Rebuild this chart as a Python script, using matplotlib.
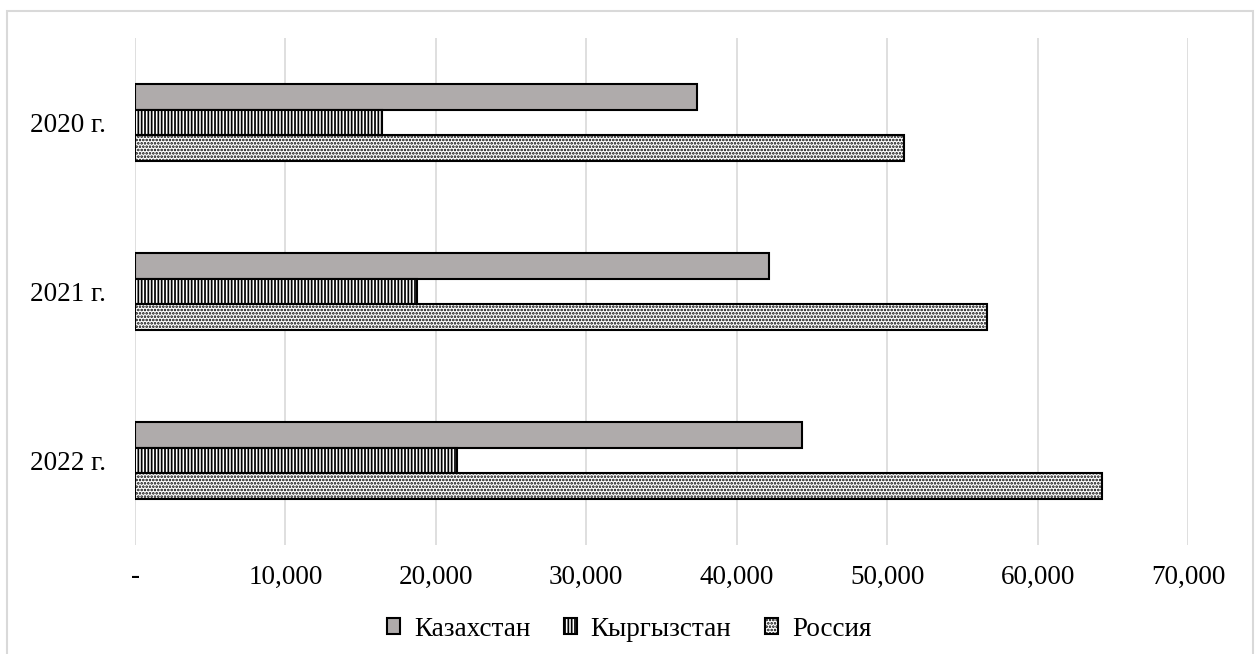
import numpy as np
import matplotlib
matplotlib.use('Agg')
import matplotlib.pyplot as plt
from matplotlib.patches import Rectangle
from matplotlib.ticker import FuncFormatter

years = ['2020 г.', '2021 г.', '2022 г.']
kazakhstan = [37330, 42120, 44310]
kyrgyzstan = [16430, 18760, 21420]
russia = [51100, 56620, 64270]

plt.rcParams['font.family'] = ['Liberation Serif', 'DejaVu Serif']
plt.rcParams['hatch.linewidth'] = 1.25

fig = plt.figure(figsize=(12.58, 6.54), dpi=100)
fig.patches.append(Rectangle((7 / 1258, -0.1), 1246 / 1258, 1.1 - 11 / 654,
                             transform=fig.transFigure, fill=False,
                             edgecolor='#d9d9d9', linewidth=1.5))
ax = fig.add_axes([135 / 1258, 1 - 545 / 654, 1053 / 1258, 507 / 654])

y = np.arange(len(years))
h = 0.15
ax.barh(y - h, kazakhstan, h, color='#afabab', edgecolor='black', linewidth=1.5,
        label='Казахстан', zorder=3)
ax.barh(y, kyrgyzstan, h, color='white', edgecolor='black', linewidth=1.5,
        hatch='|||||', label='Кыргызстан', zorder=3)
ax.barh(y + h, russia, h, color='white', edgecolor='black', linewidth=1.5,
        hatch='.....', label='Россия', zorder=3)

ax.set_xlim(0, 70000)
ax.set_ylim(2.5, -0.5)
ax.set_xticks(np.arange(0, 70001, 10000))
ax.xaxis.set_major_formatter(FuncFormatter(lambda v, p: '-' if v == 0 else f'{v:,.0f}'))
ax.set_yticks(y)
ax.set_yticklabels(years)
ax.tick_params(axis='both', length=0, labelsize=19.5)
ax.tick_params(axis='x', pad=14)
ax.tick_params(axis='y', pad=21)
ax.grid(axis='x', color='#d9d9d9', linewidth=1.2, zorder=0)
for s in ax.spines.values():
    s.set_visible(False)

fig.legend(loc='center', bbox_to_anchor=(0.5, 1 - 629 / 654), ncol=3, frameon=False,
           fontsize=19.5, handlelength=0.5, handleheight=0.5, handletextpad=0.5,
           columnspacing=1.23)

fig.savefig('out.png', dpi=100)
